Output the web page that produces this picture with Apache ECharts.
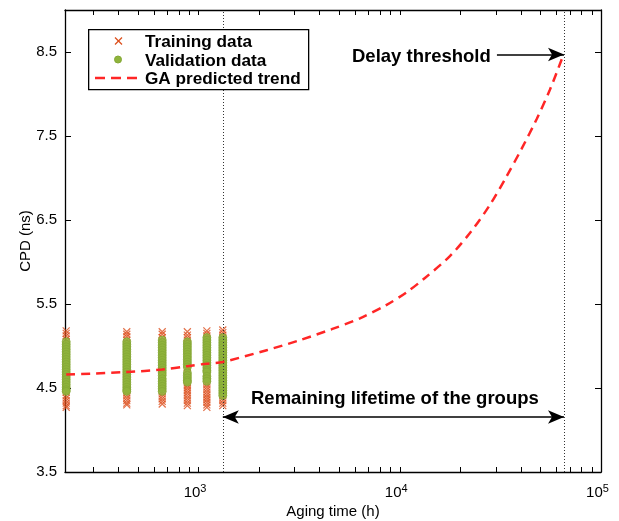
<!DOCTYPE html>
<html><head><meta charset="utf-8">
<script src="https://cdn.jsdelivr.net/npm/echarts@6/dist/echarts.min.js"></script>
<style>html,body{margin:0;padding:0;background:#fff}#c{width:619px;height:521px}</style>
</head><body><div id="c"></div>
<script>
// ---- data ----
const groupTimes = [220, 440, 660, 880, 1100, 1320];
const training220 = [5.18,5.15,5.12,5.08,5.05,5.01,4.97,4.93,4.89,4.85,4.81,4.77,4.73,4.69,4.65,4.61,4.57,4.53,4.49,4.45,4.41,4.38,4.35,4.32,4.29,4.27];
const training440 = [5.17,5.14,5.11,5.07,5.03,4.99,4.95,4.91,4.87,4.83,4.79,4.75,4.71,4.67,4.63,4.59,4.55,4.51,4.47,4.44,4.41,4.38,4.35,4.32,4.30];
const training660 = [5.17,5.14,5.10,5.06,5.02,4.98,4.94,4.90,4.86,4.82,4.78,4.74,4.70,4.66,4.62,4.58,4.54,4.50,4.46,4.43,4.40,4.37,4.34,4.31];
const training880 = [5.17,5.13,5.10,5.07,5.03,4.99,4.95,4.91,4.87,4.83,4.79,4.75,4.71,4.67,4.63,4.59,4.56,4.53,4.50,4.47,4.44,4.41,4.38,4.35,4.32,4.29];
const training1100 = [5.18,5.15,5.12,5.09,5.05,5.01,4.97,4.93,4.89,4.85,4.81,4.77,4.73,4.69,4.65,4.61,4.57,4.54,4.51,4.48,4.45,4.42,4.39,4.36,4.33,4.30,4.27];
const training1320 = [5.19,5.16,5.13,5.10,5.07,5.04,5.01,4.98,4.95,4.92,4.89,4.86,4.83,4.80,4.77,4.74,4.71,4.68,4.65,4.62,4.59,4.56,4.53,4.50,4.47,4.44,4.41,4.38,4.35,4.32,4.29];
const validation220 = [5.05,5.02,4.99,4.96,4.93,4.90,4.87,4.84,4.81,4.78,4.75,4.72,4.69,4.66,4.63,4.60,4.57,4.54,4.51,4.48,4.46];
const validation440 = [5.05,5.02,4.99,4.96,4.93,4.90,4.87,4.84,4.81,4.78,4.75,4.72,4.69,4.66,4.63,4.60,4.57,4.54,4.51,4.48,4.46];
const validation660 = [5.07,5.04,5.01,4.98,4.95,4.92,4.89,4.86,4.83,4.80,4.77,4.74,4.71,4.68,4.65,4.61,4.58,4.55,4.52,4.49,4.46];
const validation880 = [5.05,5.02,4.99,4.96,4.93,4.90,4.87,4.84,4.81,4.78,4.75,4.68,4.65,4.62,4.59,4.57];
const validation1100 = [5.10,5.07,5.04,5.01,4.98,4.95,4.92,4.89,4.86,4.83,4.80,4.77,4.74,4.71,4.69,4.64,4.61,4.58];
const validation1320 = [5.10,5.07,5.04,5.01,4.98,4.95,4.92,4.89,4.86,4.83,4.80,4.77,4.74,4.71,4.68,4.65,4.62,4.59,4.56,4.53,4.50,4.47,4.44,4.41];
const trendTimes = [220,440,660,880,1100,1320,2180,3190,4590,6340,8610,10820,13340,17750,22740,28050,33960,40350,47860,55720,64860];
const trendValues = [4.66,4.69,4.72,4.76,4.79,4.81,4.95,5.07,5.20,5.33,5.49,5.64,5.81,6.07,6.37,6.68,7.02,7.35,7.70,8.05,8.46];
const yTickValues = [3.5,4.5,5.5,6.5,7.5,8.5];
const xLabelValues = [1000,10000,100000];
const xTickValues = [300,400,500,600,700,800,900,1000,2000,3000,4000,5000,6000,7000,8000,9000,10000,20000,30000,40000,50000,60000,70000,80000,90000,100000];
const lifetimeStart = 1320;
const thresholdTime = 65500;
const thresholdValue = 8.47;
const lifetimeArrowY = 4.155;
const thresholdArrowStart = 30400;

// ---- build ----
const trainingGroups = [training220, training440, training660, training880, training1100, training1320];
const validationGroups = [validation220, validation440, validation660, validation880, validation1100, validation1320];
const trainingData = [], validationData = [];
groupTimes.forEach((t, i) => {
  trainingGroups[i].forEach(v => trainingData.push([t, v]));
  validationGroups[i].forEach(v => validationData.push([t, v]));
});
const trendData = trendTimes.map((t, i) => [t, trendValues[i]]);

const FONT = 'Liberation Sans, Arial, sans-serif';
const X_MIN = 217, X_MAX = 100000, Y_MIN = 3.5, Y_MAX = 9.0;
const RED = '#ff2626', XRED = '#dc4e1c', GREEN = '#8fb43c';
const crossPath = 'path://M0,0L10,10M10,0L0,10';

const chart = echarts.init(document.getElementById('c'), null, {renderer: 'canvas'});
const axisLine = {show: true, lineStyle: {color: '#000', width: 1.3}};
const option = {
  animation: false,
  backgroundColor: '#fff',
  grid: {left: 65, right: 18, top: 10, bottom: 49, containLabel: false, outerBoundsMode: 'none'},
  xAxis: [
    {
      type: 'log', logBase: 10, min: X_MIN, max: X_MAX, position: 'bottom',
      axisLine: axisLine,
      axisTick: {show: true, inside: true, length: 5, lineStyle: {color: '#000', width: 1}, customValues: xTickValues},
      axisLabel: {
        customValues: xLabelValues, margin: 11, color: '#000',
        fontFamily: FONT, fontSize: 15, padding: [0, 7, 0, 0],
        formatter: v => '10{s|' + Math.round(Math.log10(v)) + '}',
        rich: {s: {fontSize: 11, fontFamily: FONT, color: '#000', verticalAlign: 'top', padding: [0, 0, 9, 0]}}
      },
      splitLine: {show: false},
      name: 'Aging time (h)', nameLocation: 'middle', nameGap: 32, nameMoveOverlap: false,
      nameTextStyle: {fontFamily: FONT, fontSize: 15, color: '#000'}
    },
    {
      type: 'log', logBase: 10, min: X_MIN, max: X_MAX, position: 'top',
      axisLine: axisLine,
      axisTick: {show: true, inside: true, length: 5, lineStyle: {color: '#000', width: 1}, customValues: xTickValues},
      axisLabel: {show: false}, splitLine: {show: false}
    }
  ],
  yAxis: [
    {
      type: 'value', min: Y_MIN, max: Y_MAX, position: 'left',
      axisLine: axisLine,
      axisTick: {show: true, inside: true, length: 6, lineStyle: {color: '#000', width: 1}, customValues: yTickValues},
      axisLabel: {customValues: yTickValues, margin: 8, color: '#000', fontFamily: FONT, fontSize: 15,
        formatter: v => v.toFixed(1)},
      splitLine: {show: false},
      name: 'CPD (ns)', nameLocation: 'middle', nameGap: 32, nameMoveOverlap: false,
      nameTextStyle: {fontFamily: FONT, fontSize: 15, color: '#000'}
    },
    {
      type: 'value', min: Y_MIN, max: Y_MAX, position: 'right',
      axisLine: axisLine,
      axisTick: {show: true, inside: true, length: 6, lineStyle: {color: '#000', width: 1}, customValues: yTickValues},
      axisLabel: {show: false}, splitLine: {show: false}
    }
  ],
  series: [
    {
      name: 'Training data', type: 'scatter', xAxisIndex: 0, yAxisIndex: 0,
      data: trainingData, symbol: crossPath, symbolSize: 7,
      itemStyle: {color: 'rgba(0,0,0,0)', borderColor: XRED, borderWidth: 1.2}
    },
    {
      name: 'Validation data', type: 'scatter', xAxisIndex: 0, yAxisIndex: 0,
      data: validationData, symbol: 'circle', symbolSize: 8,
      itemStyle: {color: GREEN, borderColor: '#84a834', borderWidth: 1}
    },
    {
      name: 'GA predicted trend', type: 'line', xAxisIndex: 0, yAxisIndex: 0,
      data: trendData, smooth: 0.3, symbol: 'none',
      lineStyle: {color: RED, width: 2.5, type: [9, 6]},
      z: 5,
      markLine: {
        silent: true, symbol: 'none', animation: false,
        label: {show: false},
        data: [
          [{coord: [lifetimeStart, Y_MIN], symbol: 'none', lineStyle: {color: '#333', width: 1, type: [1, 2]}},
           {coord: [lifetimeStart, Y_MAX], symbol: 'none'}],
          [{coord: [thresholdTime, Y_MIN], symbol: 'none', lineStyle: {color: '#333', width: 1, type: [1, 2]}},
           {coord: [thresholdTime, Y_MAX], symbol: 'none'}],
          [{coord: [lifetimeStart, lifetimeArrowY], symbol: 'arrow', symbolSize: [10, 16], lineStyle: {color: '#000', width: 1.5, type: 'solid'}},
           {coord: [thresholdTime, lifetimeArrowY], symbol: 'arrow', symbolSize: [10, 16]}],
          [{coord: [thresholdArrowStart, thresholdValue], symbol: 'none', lineStyle: {color: '#000', width: 1.5, type: 'solid'}},
           {coord: [thresholdTime, thresholdValue], symbol: 'arrow', symbolSize: [10, 16]}]
        ]
      }
    }
  ],
  graphic: [
    {type: 'rect', left: 88, top: 29, z: 100, shape: {width: 220, height: 60},
      style: {fill: '#fff', stroke: '#000', lineWidth: 1.3}},
    {type: 'line', z: 101, shape: {x1: 115, y1: 37.5, x2: 122, y2: 44.5}, style: {stroke: XRED, lineWidth: 1.3}},
    {type: 'line', z: 101, shape: {x1: 122, y1: 37.5, x2: 115, y2: 44.5}, style: {stroke: XRED, lineWidth: 1.3}},
    {type: 'circle', z: 101, shape: {cx: 118, cy: 59.5, r: 3.5}, style: {fill: GREEN, stroke: '#84a834', lineWidth: 1}},
    {type: 'line', z: 101, shape: {x1: 95, y1: 78, x2: 139, y2: 78}, style: {stroke: RED, lineWidth: 2.5, lineDash: [10, 6]}},
    {type: 'text', z: 101, left: 145, top: 34, style: {text: 'Training data', font: 'bold 17.2px ' + FONT, fill: '#000'}},
    {type: 'text', z: 101, left: 145, top: 52.5, style: {text: 'Validation data', font: 'bold 17.2px ' + FONT, fill: '#000'}},
    {type: 'text', z: 101, left: 145, top: 71, style: {text: 'GA predicted trend', font: 'bold 17.2px ' + FONT, fill: '#000'}},
    {type: 'text', z: 101, left: 352, top: 47, style: {text: 'Delay threshold', font: 'bold 18.5px ' + FONT, fill: '#000'}},
    {type: 'text', z: 101, left: 251, top: 389, style: {text: 'Remaining lifetime of the groups', font: 'bold 18.5px ' + FONT, fill: '#000'}}
  ]
};
chart.setOption(option);
</script>
</body></html>
